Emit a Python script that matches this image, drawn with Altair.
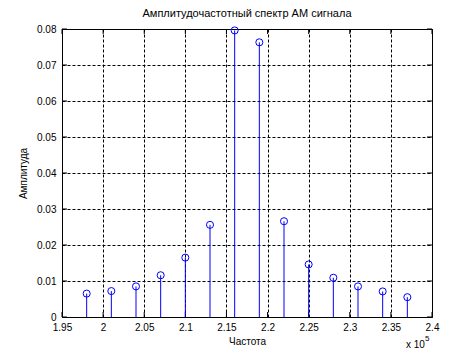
import altair as alt
import pandas as pd

# Data (frequency in Hz, amplitude)
freq = [198000, 201000, 204000, 207000, 210000, 213000, 216000,
        219000, 222000, 225000, 228000, 231000, 234000, 237000]
amp = [0.0065, 0.0072, 0.0085, 0.0116, 0.0165, 0.0256, 0.0796,
       0.0763, 0.0266, 0.0146, 0.0109, 0.0085, 0.0071, 0.0055]

x_ticks = [195000, 200000, 205000, 210000, 215000, 220000, 225000, 230000, 235000, 240000]
y_ticks = [0, 0.01, 0.02, 0.03, 0.04, 0.05, 0.06, 0.07, 0.08]

title_text = "Амплитудочастотный спектр АМ сигнала"
x_title = "Частота"
y_title = "Амплитуда"
exp_base = "x 10"
exp_pow = "5"

W, H = 370, 288
FONT = "Liberation Sans"
BLUE = "#0000ff"

df = pd.DataFrame({"f": freq, "a": amp})
dfx = pd.DataFrame({"f": x_ticks})
dfy = pd.DataFrame({"a": y_ticks})

xs = alt.Scale(domain=[195000, 240000], nice=False, zero=False)
ys = alt.Scale(domain=[0, 0.08], nice=False)

common_axis = dict(grid=True, ticks=False, domain=False, labelFlush=False,
                   gridColor="black", gridDash=[3, 2], gridOpacity=1, gridWidth=1,
                   labelFont=FONT, labelFontSize=10, labelColor="black",
                   titleFont=FONT, titleFontSize=10, titleColor="black",
                   titleFontWeight="normal", labelOverlap=False)

x_axis = alt.Axis(values=x_ticks, title=x_title,
                  labelExpr="format(datum.value/100000, '.3~g')",
                  labelPadding=5, titlePadding=4, **common_axis)
y_axis = alt.Axis(values=y_ticks, title=y_title,
                  labelExpr="format(datum.value, '.2~f')",
                  labelPadding=6, titlePadding=8, **common_axis)

X = alt.X("f:Q", scale=xs, axis=x_axis)
Y = alt.Y("a:Q", scale=ys, axis=y_axis)

base = alt.Chart(df)

stems = base.mark_rule(color=BLUE, strokeWidth=1).encode(
    x=X, y=Y, y2=alt.datum(0),
)

points = base.mark_point(shape="circle", filled=False, color=BLUE,
                         size=50, strokeWidth=1, opacity=1).encode(x=X, y=Y)

tick_len = 5
xt_bottom = alt.Chart(dfx).mark_rule(color="black").encode(
    x=X, y=alt.value(H), y2=alt.value(H - tick_len))
xt_top = alt.Chart(dfx).mark_rule(color="black").encode(
    x=X, y=alt.value(0), y2=alt.value(tick_len))
yt_left = alt.Chart(dfy).mark_rule(color="black").encode(
    y=Y, x=alt.value(0), x2=alt.value(tick_len))
yt_right = alt.Chart(dfy).mark_rule(color="black").encode(
    y=Y, x=alt.value(W), x2=alt.value(W - tick_len))

exp1 = alt.Chart(pd.DataFrame({"t": [exp_base]})).mark_text(
    align="left", baseline="alphabetic", font=FONT, fontSize=10, color="black"
).encode(x=alt.value(344), y=alt.value(319), text="t:N")
exp2 = alt.Chart(pd.DataFrame({"t": [exp_pow]})).mark_text(
    align="left", baseline="alphabetic", font=FONT, fontSize=8, color="black"
).encode(x=alt.value(363), y=alt.value(312), text="t:N")

chart = alt.layer(
    xt_bottom, xt_top, yt_left, yt_right, stems, points, exp1, exp2
).properties(
    width=W, height=H,
    background="white",
    title=alt.TitleParams(title_text, font=FONT, fontSize=11,
                          fontWeight="normal", color="black", offset=5),
    autosize="none",
    padding={"left": 54, "top": 21, "right": 30, "bottom": 32},
).configure_view(
    stroke="black", strokeWidth=1
)

chart.save("out.html", embed_options={"renderer": "svg", "actions": False})
